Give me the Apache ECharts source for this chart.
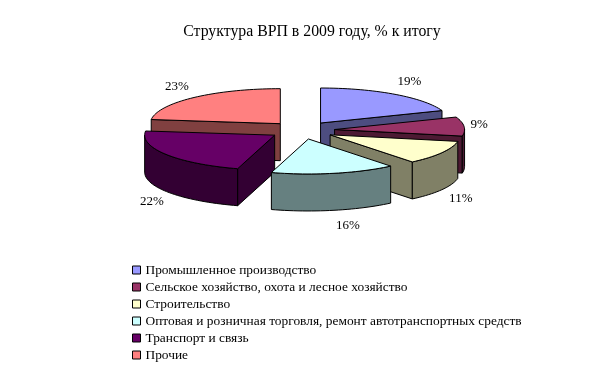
<!DOCTYPE html>
<html><head><meta charset="utf-8">
<style>html,body{margin:0;padding:0;background:#fff}#c{width:612px;height:368px}</style>
<script src="https://cdn.jsdelivr.net/npm/echarts@6/dist/echarts.min.js"></script>
</head><body><div id="c"></div>
<script>
const categories = ['Промышленное производство','Сельское хозяйство, охота и лесное хозяйство','Строительство','Оптовая и розничная торговля, ремонт автотранспортных средств','Транспорт и связь','Прочие'];
const values = [19.2, 8.8, 11.1, 15.5, 22.3, 23.1];
const topColors = ['#9999FF','#993366','#FFFFCC','#CCFFFF','#660066','#FF8080'];
const sideColors = ['#4D4D80','#4D1A33','#808066','#668080','#330033','#804040'];
const paintOrder = [0, 5, 1, 2, 4, 3];
const labelDx = [15, 15, 19, 14, -14, -17];
const labelDy = [-13, -2, 9, 15, 10, -11];
const P = {cx:302, cy:130.3, rx:130, ry:35, ex:32.7, ey:8.85, depth:37};
const total = values.reduce((a,b)=>a+b,0);
const rad = d => d*Math.PI/180;
function makeRender(i){
  return function(params, api){
    const v = api.value(0);
    let before = 0; for(let k=0;k<i;k++) before += values[k];
    const a0 = before/total*360, a1 = (before+v)/total*360, mid=(a0+a1)/2;
    const ax = P.cx + P.ex*Math.sin(rad(mid)), ay = P.cy - P.ey*Math.cos(rad(mid));
    const pt = (t,d=0)=>[ax+P.rx*Math.sin(rad(t)), ay-P.ry*Math.cos(rad(t))+d];
    const arc = (s,e,d=0)=>{const o=[];const n=Math.max(1,Math.ceil((e-s)/2));for(let j=0;j<=n;j++)o.push(pt(s+(e-s)*j/n,d));return o;};
    const style=(c)=>({fill:c,stroke:'#000',lineWidth:1});
    const kids=[];
    const poly=(points,c)=>kids.push({type:'polygon',shape:{points},style:style(c)});
    const apexB=[ax,ay+P.depth];
    if(Math.sin(rad(a0))<-1e-6) poly([[ax,ay],pt(a0),pt(a0,P.depth),apexB],sideColors[i]);
    if(Math.sin(rad(a1))>1e-6) poly([[ax,ay],pt(a1),pt(a1,P.depth),apexB],sideColors[i]);
    const ws=Math.max(a0,90), we=Math.min(a1,270);
    if(we>ws) poly(arc(ws,we).concat(arc(ws,we,P.depth).reverse()),sideColors[i]);
    poly([[ax,ay]].concat(arc(a0,a1)),topColors[i]);
    const lp=pt(mid,Math.cos(rad(mid))>0?0:P.depth);
    kids.push({type:'text',style:{x:lp[0]+labelDx[i],y:lp[1]+labelDy[i],text:Math.round(v)+'%',fill:'#000',font:'13px "Liberation Serif"',align:'center',verticalAlign:'middle'}});
    return {type:'group',children:kids};
  };
}
const series = categories.map((name,i)=>({
  type:'custom', name, coordinateSystem:'none', data:[[values[i]]],
  renderItem:makeRender(i), z:2+paintOrder.indexOf(i), silent:true, animation:false,
  itemStyle:{color:topColors[i]}
}));
const chart = echarts.init(document.getElementById('c'),null,{renderer:'canvas'});
chart.setOption({
  animation:false, backgroundColor:'#fff',
  title:{text:'Структура ВРП в 2009 году, % к итогу',left:312,top:24,textAlign:'center',padding:0,
    textStyle:{fontFamily:'Liberation Serif',fontSize:15.8,fontWeight:'normal',color:'#000'}},
  legend:{orient:'vertical',left:132,top:263,height:110,padding:0,itemWidth:8,itemHeight:8,itemGap:3,selectedMode:false,icon:'rect',
    itemStyle:{borderColor:'#000',borderWidth:1},
    textStyle:{fontFamily:'Liberation Serif',fontSize:13.4,color:'#000',lineHeight:14},
    data:categories},
  series
});
</script></body></html>
